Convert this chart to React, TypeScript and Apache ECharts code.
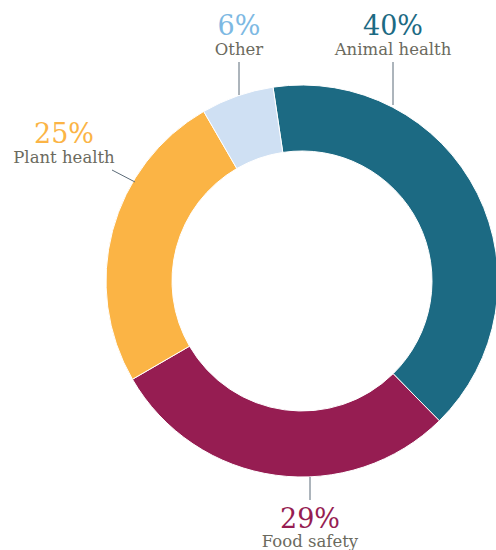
import React, { useEffect, useRef } from "react";
import * as echarts from "echarts";

const categories = ["Animal health", "Food safety", "Plant health", "Other"];
const values = [40, 29, 25, 6];
const sliceColors = ["#1c6a83", "#961d52", "#fbb445", "#cfe0f3"];
const pctColors = ["#1c6a83", "#961d52", "#fbb445", "#7db9e3"];

// label positions (center x, percent middle y, name middle y) – layout only
const labelPos = [
  [393, 25, 49],
  [310, 518, 541],
  [64, 133, 157],
  [239, 25, 49],
];
// leader lines
const leaders = [
  [393, 62, 393, 105],
  [310, 477, 310, 500],
  [112, 170, 135, 182],
  [239, 62, 239, 95],
];

export default function App() {
  const ref = useRef<HTMLDivElement>(null);
  useEffect(() => {
    document.body.style.margin = "0";
    const chart = echarts.init(ref.current!, null, { renderer: "svg" });
    const texts: any[] = [];
    categories.forEach((name, i) => {
      const [x, yp, yn] = labelPos[i];
      texts.push({
        type: "text",
        x,
        y: yp,
        style: {
          text: values[i] + "%",
          fill: pctColors[i],
          font: "27px 'DejaVu Serif'",
          textAlign: "center",
          textVerticalAlign: "middle",
        },
        z: 10,
      });
      texts.push({
        type: "text",
        x,
        y: yn,
        style: {
          text: name,
          fill: "#6b6a5e",
          font: "16.5px 'DejaVu Serif'",
          textAlign: "center",
          textVerticalAlign: "middle",
        },
        z: 10,
      });
    });
    chart.setOption({
      animation: false,
      backgroundColor: "#ffffff",
      graphic: [
        ...leaders.map((l) => ({
          type: "line",
          shape: { x1: l[0], y1: l[1], x2: l[2], y2: l[3] },
          style: { stroke: "#5b6b78", lineWidth: 1 },
          z: 10,
        })),
        ...texts,
      ],
      series: [
        {
          type: "pie",
          center: [302, 281],
          radius: [130, 196],
          startAngle: 98.5,
          clockwise: true,
          itemStyle: { borderColor: "#ffffff", borderWidth: 1 },
          label: { show: false },
          labelLine: { show: false },
          emphasis: { disabled: true },
          data: categories.map((name, i) => ({
            name,
            value: values[i],
            itemStyle: { color: sliceColors[i] },
          })),
        },
      ],
    });
    return () => chart.dispose();
  }, []);
  return <div ref={ref} style={{ width: 496, height: 550 }} />;
}
